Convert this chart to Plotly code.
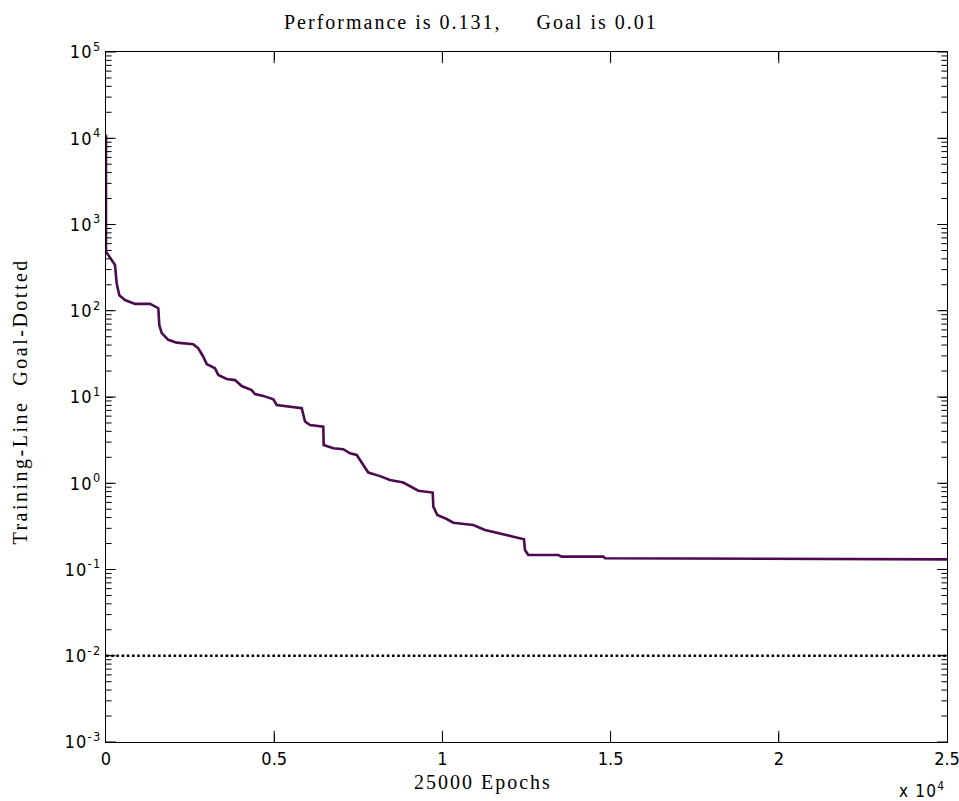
import plotly.graph_objects as go

# ---- data ----
epochs = [0, 0, 268, 318, 395, 565, 862, 1308, 1555, 1585, 1656, 1852, 2102, 2595,
          2744, 2892, 2994, 3240, 3338, 3588, 3835, 4034, 4331, 4429, 4676, 4973,
          5075, 5568, 5818, 5916, 6064, 6460, 6470, 6757, 7054, 7253, 7453, 7649,
          7797, 8145, 8443, 8838, 9037, 9284, 9712, 9730, 9849, 10128, 10324,
          10919, 11267, 11811, 12108, 12426, 12455, 12554, 13446, 13547, 14784,
          14834, 25000]
performance = [11000, 484, 339, 208, 151, 133, 120, 120, 107, 68, 55, 46, 42.7, 41,
               36.7, 29.3, 24.1, 21.5, 18, 16.2, 15.7, 13.4, 12, 10.8, 10.3, 9.4,
               8.07, 7.7, 7.4, 5.2, 4.74, 4.53, 2.78, 2.54, 2.48, 2.22, 2.13, 1.63,
               1.33, 1.21, 1.09, 1.02, 0.93, 0.82, 0.78, 0.535, 0.428, 0.385, 0.349,
               0.328, 0.287, 0.258, 0.240, 0.224, 0.168, 0.147, 0.147, 0.141, 0.141,
               0.135, 0.131]
goal_epochs = [0, 25000]
goal_values = [0.01, 0.01]

x_range = [0, 25000]
x_tickvals = [0, 5000, 10000, 15000, 20000, 25000]
x_ticktext = ["0", "0.5", "1", "1.5", "2", "2.5"]
y_exponents = [-3, -2, -1, 0, 1, 2, 3, 4, 5]
y_tickvals = [10.0 ** e for e in y_exponents]
y_ticktext = ["10<sup>%d</sup>" % e for e in y_exponents]
y_minor = [m * 10.0 ** e for e in range(-3, 5) for m in range(2, 10)]

title_text = "Performance is 0.131,\u00a0\u00a0\u00a0\u00a0\u00a0Goal is 0.01"
x_title = "25000 Epochs"
y_title = "Training-Line\u00a0\u00a0Goal-Dotted"
x_exp = "x 10<sup>4</sup>"

SERIF = "Liberation Serif, Times New Roman, serif"
NARROW = "Liberation Sans Narrow, Arial Narrow, DejaVu Sans Condensed, sans-serif"

fig = go.Figure()
fig.add_trace(go.Scatter(x=epochs, y=performance, mode="lines",
                         line=dict(color="#4b0b4e", width=2.6), showlegend=False))
fig.add_trace(go.Scatter(x=goal_epochs, y=goal_values, mode="lines",
                         line=dict(color="black", width=2.6, dash="2.6px,2.6px"),
                         showlegend=False))


def tick_marks(xs, ys, symbol, size):
    # frame tick marks; the half outside the plot area is clipped away
    return go.Scatter(x=xs, y=ys, mode="markers", hoverinfo="skip", showlegend=False,
                      cliponaxis=True,
                      marker=dict(symbol=symbol, size=size, color="black",
                                  line=dict(color="black", width=1)))


inner_x = x_tickvals[1:-1]
fig.add_trace(tick_marks([x_range[0]] * len(y_tickvals) + [x_range[1]] * len(y_tickvals),
                         y_tickvals + y_tickvals, "line-ew", 14))
fig.add_trace(tick_marks([x_range[0]] * len(y_minor) + [x_range[1]] * len(y_minor),
                         y_minor + y_minor, "line-ew", 8))
fig.add_trace(tick_marks(inner_x + inner_x,
                         [y_tickvals[0]] * len(inner_x) + [y_tickvals[-1]] * len(inner_x),
                         "line-ns", 16))

axis_common = dict(showgrid=False, zeroline=False, tickcolor="black", tickwidth=1,
                   automargin=False)

fig.update_layout(
    width=959, height=801, autosize=False,
    margin=dict(l=106, r=12, t=52, b=59),
    paper_bgcolor="white", plot_bgcolor="white",
    font=dict(family=NARROW, size=18, color="black"),
    xaxis=dict(range=x_range, tickmode="array", tickvals=x_tickvals,
               ticktext=x_ticktext, ticks="inside", ticklen=8,
               mirror="ticks", showline=True, linecolor="black", linewidth=1.2,
               tickfont=dict(family=NARROW, size=18),
               ticklabeloverflow="allow", **axis_common),
    yaxis=dict(type="log", range=[-3, 5], tickmode="array", tickvals=y_tickvals,
               ticktext=y_ticktext, ticks="inside", ticklen=7,
               mirror="ticks", showline=True, linecolor="black", linewidth=1.2,
               tickfont=dict(family=NARROW, size=18), **axis_common),
    annotations=[
        dict(text=title_text, xref="paper", yref="paper", x=0.434, y=1.0435,
             xanchor="center", yanchor="middle", showarrow=False,
             font=dict(family=SERIF, size=20)),
        dict(text=x_title, xref="paper", yref="paper", x=0.448, y=-0.0594,
             xanchor="center", yanchor="middle", showarrow=False,
             font=dict(family=SERIF, size=20)),
        dict(text=y_title, xref="paper", yref="paper", x=-0.1023, y=0.494,
             xanchor="center", yanchor="middle", textangle=-90, showarrow=False,
             font=dict(family=SERIF, size=20)),
        dict(text=x_exp, xref="paper", yref="paper", x=0.97, y=-0.07,
             xanchor="center", yanchor="middle", showarrow=False,
             font=dict(family=NARROW, size=17)),
    ],
)

post = """
document.body.style.margin = '0';
var s = document.createElement('style');
s.textContent = 'body{margin:0 !important;}' +
  '.annotation[data-index="0"] .annotation-text,' +
  '.annotation[data-index="1"] .annotation-text{letter-spacing:2px;}' +
  '.annotation[data-index="2"] .annotation-text{letter-spacing:2.5px;}' +
  '.ytick text, .annotation[data-index="3"] .annotation-text{letter-spacing:1.2px;}';
document.head.appendChild(s);
"""
fig.write_html("out.html", post_script=post, config={"displayModeBar": False})
